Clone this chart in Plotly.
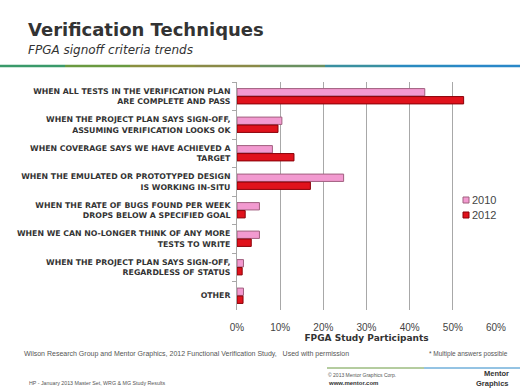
import plotly.graph_objects as go

categories = [
    "WHEN ALL TESTS IN THE VERIFICATION PLAN<br>ARE COMPLETE AND PASS",
    "WHEN THE PROJECT PLAN SAYS SIGN-OFF,<br>ASSUMING VERIFICATION LOOKS OK",
    "WHEN COVERAGE SAYS WE HAVE ACHIEVED A<br>TARGET",
    "WHEN THE EMULATED OR PROTOTYPED DESIGN<br>IS WORKING IN-SITU",
    "WHEN THE RATE OF BUGS FOUND PER WEEK<br>DROPS BELOW A SPECIFIED GOAL",
    "WHEN WE CAN NO-LONGER THINK OF ANY MORE<br>TESTS TO WRITE",
    "WHEN THE PROJECT PLAN SAYS SIGN-OFF,<br>REGARDLESS OF STATUS",
    "OTHER",
]
values_2010 = [0.435, 0.104, 0.082, 0.247, 0.052, 0.052, 0.015, 0.015]
values_2012 = [0.525, 0.095, 0.132, 0.170, 0.019, 0.033, 0.012, 0.014]
series_names = ["2010", "2012"]
x_ticks = [0, 0.1, 0.2, 0.3, 0.4, 0.5, 0.6]
x_tick_labels = ["0%", "10%", "20%", "30%", "40%", "50%", "60%"]

colors = ["#F29AD0", "#E0121C"]
edge_colors = ["#A0607F", "#8A0008"]

W, H = 520, 390
ML, MR, MT, MB = 237, 24, 82, 80
PW, PH = W - ML - MR, H - MT - MB

def px(x):
    return (x - ML) / PW

def py(y):
    return (H - MB - y) / PH

fig = go.Figure()
for name, vals, c, ec in zip(series_names, [values_2010, values_2012], colors, edge_colors):
    fig.add_trace(go.Bar(
        y=categories, x=vals, name=name, orientation="h", showlegend=False,
        marker=dict(color=c, line=dict(color=ec, width=1)),
    ))

fig.update_layout(
    width=W, height=H,
    margin=dict(l=ML, r=MR, t=MT, b=MB, autoexpand=False),
    paper_bgcolor="white", plot_bgcolor="white",
    barmode="group", bargap=0.44, bargroupgap=0.08,
    font=dict(family="DejaVu Sans", color="#333333"),
    showlegend=False,
    xaxis=dict(
        range=[0, 0.6], tickvals=x_ticks, ticktext=x_tick_labels,
        showgrid=True, gridcolor="#A8A8A8", gridwidth=1,
        zeroline=False, showline=False,
        tickfont=dict(family="Liberation Sans", size=10, color="#444444"),
        ticklabelstandoff=10,
        title=dict(text="<b>FPGA Study Participants</b>",
                   font=dict(family="DejaVu Sans", size=9, color="#333333"),
                   standoff=2),
        fixedrange=True,
    ),
    yaxis=dict(
        autorange="reversed", type="category",
        showline=True, linecolor="#A8A8A8", linewidth=1,
        ticks="outside", ticklen=4, tickcolor="#A8A8A8", tickson="boundaries",
        tickfont=dict(family="DejaVu Sans", size=7.8, color="#333333", weight="bold"),
        ticklabelstandoff=4,
        fixedrange=True,
    ),
)

# Legend (drawn as small squares with labels)
legend_y = [200, 215]
for name, c, ec, ly in zip(series_names, colors, edge_colors, legend_y):
    fig.add_shape(type="rect", xref="paper", yref="paper",
                  x0=px(463), x1=px(469), y0=py(ly - 3), y1=py(ly + 3),
                  fillcolor=c, line=dict(color=ec, width=1))
    fig.add_annotation(text=name, xref="paper", yref="paper",
                       x=px(470), y=py(ly), xanchor="left", yanchor="middle", showarrow=False,
                       font=dict(family="Liberation Sans", size=11, color="#444444"))

# Header title and subtitle
fig.add_annotation(text="<b>Verification Techniques</b>", xref="paper", yref="paper",
                   x=px(26), y=py(30), xanchor="left", yanchor="middle", showarrow=False,
                   font=dict(family="DejaVu Sans", size=18, color="#333333"))
fig.add_annotation(text="<i>FPGA signoff criteria trends</i>", xref="paper", yref="paper",
                   x=px(26), y=py(50), xanchor="left", yanchor="middle", showarrow=False,
                   font=dict(family="DejaVu Sans", size=12, color="#333333"))

# Header gradient line
grad = ["#3A9A6A", "#6A9A40", "#8A9040", "#8A8A48", "#6A9060", "#3A90A0", "#2A8AC0", "#2A88C8"]
n = len(grad)
for i, c in enumerate(grad):
    fig.add_shape(type="line", xref="paper", yref="paper",
                  x0=px(i * W / n), x1=px((i + 1) * W / n), y0=py(66), y1=py(66),
                  line=dict(color=c, width=2.5))

# Footer
fig.add_annotation(text="Wilson Research Group and Mentor Graphics, 2012 Functional Verification Study,   Used with permission",
                   xref="paper", yref="paper", x=px(22), y=py(354), xanchor="left", yanchor="middle",
                   showarrow=False, font=dict(family="Liberation Sans", size=7, color="#555555"))
fig.add_annotation(text="* Multiple answers possible",
                   xref="paper", yref="paper", x=px(510), y=py(354), xanchor="right", yanchor="middle",
                   showarrow=False, font=dict(family="Liberation Sans", size=6.5, color="#555555"))
fig.add_annotation(text="HP - January 2013 Master Set, WRG & MG Study Results",
                   xref="paper", yref="paper", x=px(27), y=py(383), xanchor="left", yanchor="middle",
                   showarrow=False, font=dict(family="Liberation Sans", size=5.3, color="#555555"))
fig.add_annotation(text="© 2013 Mentor Graphics Corp.",
                   xref="paper", yref="paper", x=px(326), y=py(375), xanchor="left", yanchor="middle",
                   showarrow=False, font=dict(family="Liberation Sans", size=5, color="#555555"))
fig.add_annotation(text="<b>www.mentor.com</b>",
                   xref="paper", yref="paper", x=px(326), y=py(383), xanchor="left", yanchor="middle",
                   showarrow=False, font=dict(family="Liberation Sans", size=6, color="#333333"))
fig.add_annotation(text="<b>Mentor</b>",
                   xref="paper", yref="paper", x=px(510), y=py(373.5), xanchor="right", yanchor="middle",
                   showarrow=False, borderpad=0,
                   font=dict(family="Liberation Sans", size=7.5, color="#333333"))
fig.add_annotation(text="<b>Graphics</b>",
                   xref="paper", yref="paper", x=px(510), y=py(383), xanchor="right", yanchor="middle",
                   showarrow=False, borderpad=0,
                   font=dict(family="Liberation Sans", size=7.5, color="#333333"))
fig.add_shape(type="line", xref="paper", yref="paper",
              x0=px(327), x1=px(424), y0=py(368), y1=py(368),
              line=dict(color="#6A9A40", width=1))
fig.add_shape(type="line", xref="paper", yref="paper",
              x0=px(424), x1=px(520), y0=py(368), y1=py(368),
              line=dict(color="#2A88C8", width=1))

fig.write_html("out.html", config={"displayModeBar": False},
               post_script="document.body.style.margin='0px';")
